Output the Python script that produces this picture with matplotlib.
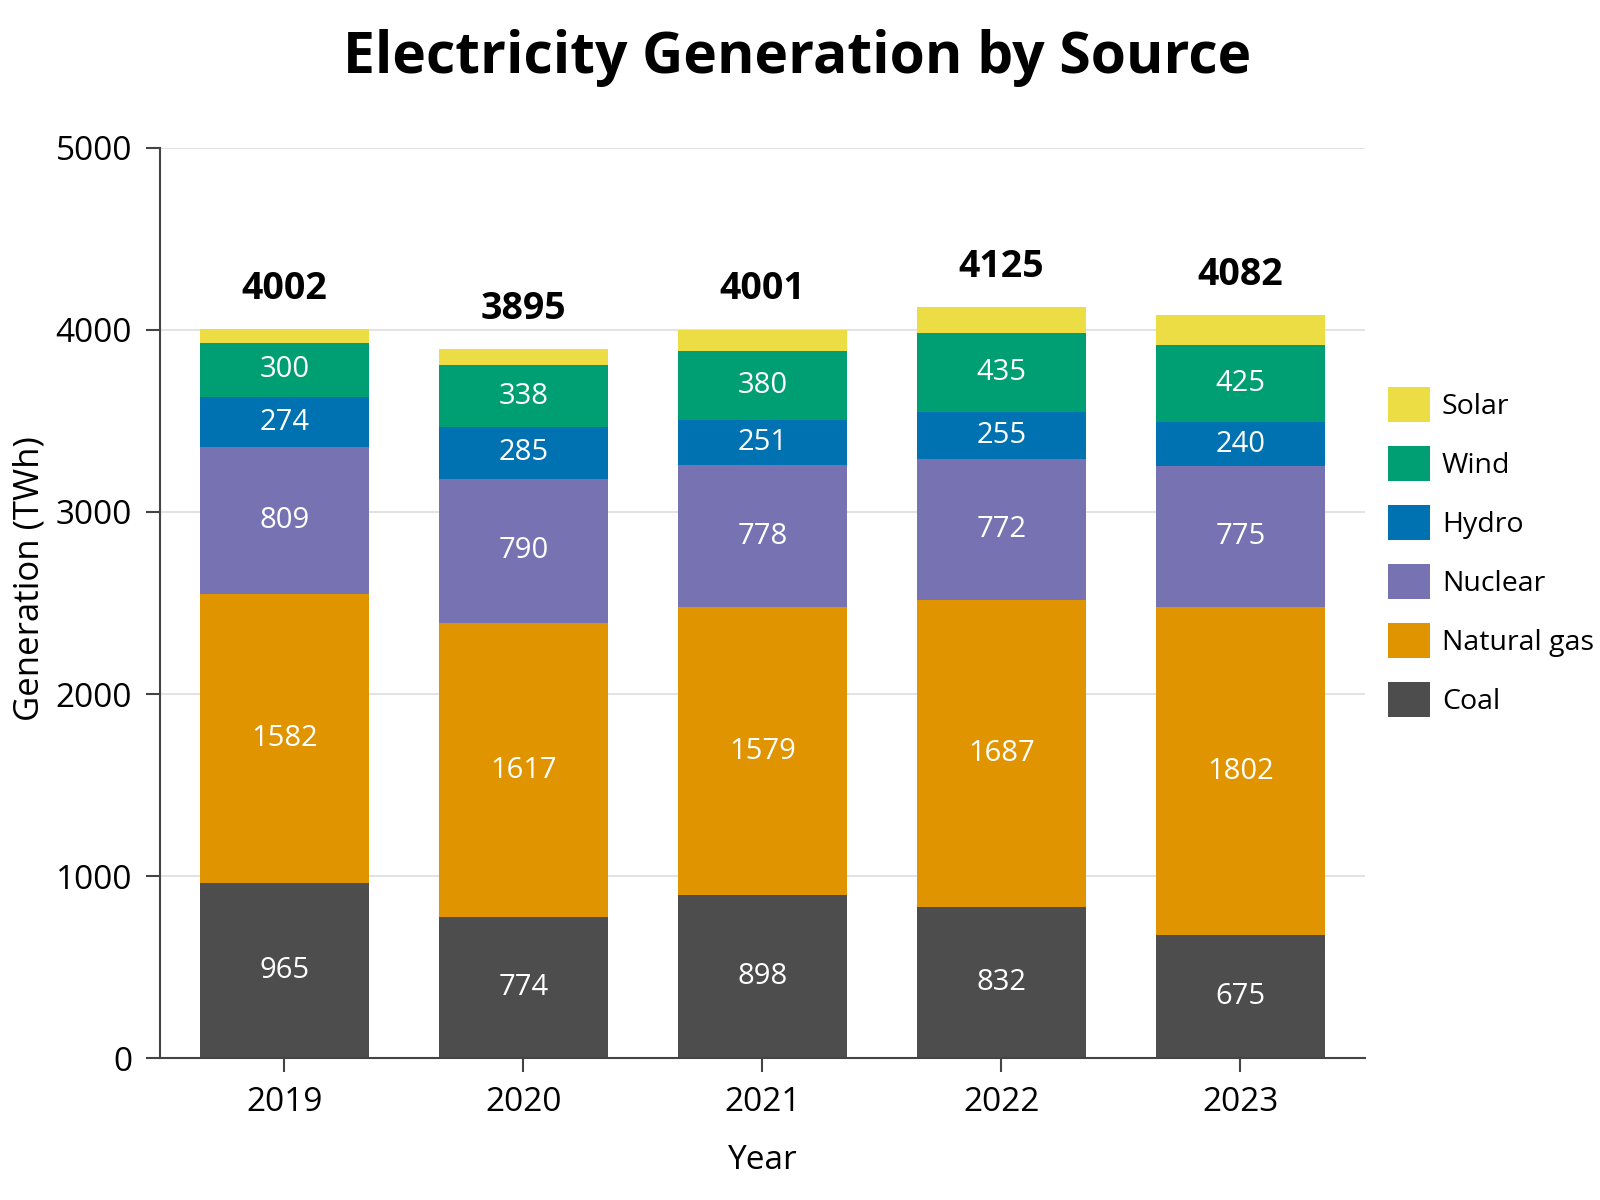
import numpy as np
import matplotlib.pyplot as plt

plt.rcParams['font.family'] = ['Open Sans', 'DejaVu Sans']

# data
years = ['2019', '2020', '2021', '2022', '2023']
coal = [965, 774, 898, 832, 675]
natural_gas = [1582, 1617, 1579, 1687, 1802]
nuclear = [809, 790, 778, 772, 775]
hydro = [274, 285, 251, 255, 240]
wind = [300, 338, 380, 435, 425]
solar = [72, 91, 115, 144, 165]
totals = [4002, 3895, 4001, 4125, 4082]

sources = ['Coal', 'Natural gas', 'Nuclear', 'Hydro', 'Wind', 'Solar']
values = [coal, natural_gas, nuclear, hydro, wind, solar]
colors = ['#4d4d4d', '#e09400', '#7773b3', '#0072b2', '#009e73', '#ecdd45']

fig = plt.figure(figsize=(16, 12), dpi=100)
ax = fig.add_axes([0.100, 0.118, 0.753, 0.759])

x = np.arange(len(years))
bottom = np.zeros(len(years))
for name, vals, col in zip(sources, values, colors):
    vals = np.array(vals, dtype=float)
    ax.bar(x, vals, 0.705, bottom=bottom, color=col, label=name, zorder=2)
    # solar slices are too thin for a label
    if name != 'Solar':
        for xi, b, v in zip(x, bottom, vals):
            ax.text(xi, b + v / 2, '%d' % v, ha='center', va='center',
                    color='white', fontsize=21, zorder=3)
    bottom += vals

# totals above each bar
for xi, top, t in zip(x, bottom, totals):
    ax.annotate('%d' % t, (xi, top), xytext=(0, 29), textcoords='offset points',
                ha='center', va='center', fontsize=27, fontweight='bold')

ax.set_xlim(-0.52, 4.52)
ax.set_ylim(0, 5000)
ax.set_yticks([0, 1000, 2000, 3000, 4000, 5000])
ax.set_xticks(x)
ax.set_xticklabels(years)
ax.tick_params(axis='both', labelsize=24, length=10, width=1.5, color='#444444', pad=10)
ax.yaxis.grid(True, color='#dddddd', linewidth=1.2, zorder=0)
ax.set_axisbelow(True)

for s in ['top', 'right']:
    ax.spines[s].set_visible(False)
for s in ['left', 'bottom']:
    ax.spines[s].set_color('#444444')
    ax.spines[s].set_linewidth(1.5)

ax.set_xlabel('Year', fontsize=24, labelpad=18)
ax.set_ylabel('Generation (TWh)', fontsize=25)
ax.yaxis.set_label_coords(-0.094, 0.527)

fig.text(0.498, 0.952, 'Electricity Generation by Source', ha='center', va='center',
         fontsize=41, fontweight='bold')

handles, labels = ax.get_legend_handles_labels()
ax.legend(handles[::-1], labels[::-1], loc='upper left', bbox_to_anchor=(1.019, 0.737),
          frameon=False, fontsize=20.5, handlelength=1.5, handleheight=1.5,
          labelspacing=0.85, handletextpad=0.4, borderpad=0, borderaxespad=0)

plt.savefig('out.png', dpi=100)
